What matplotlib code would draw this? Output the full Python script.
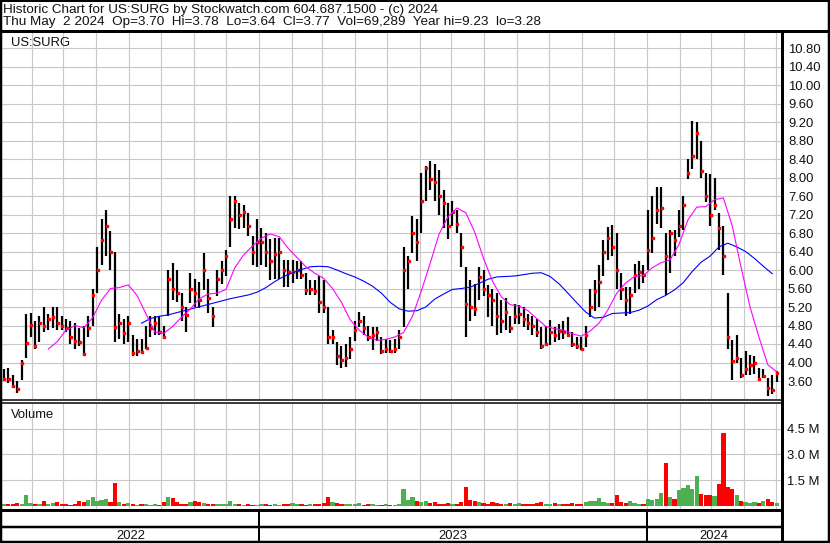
import matplotlib
matplotlib.use("Agg")
import matplotlib.pyplot as plt
import matplotlib.dates as mdates
import numpy as np
import pandas as pd

plt.rcParams['font.family'] = ['Liberation Sans', 'DejaVu Sans']

W, H = 830, 543

# price bars (about every 3 trading days)
highs = [3.85, 3.88, 3.72, 3.60, 4.05, 5.05, 5.07, 4.90, 5.00, 5.20,
         5.05, 5.20, 5.20, 5.00, 4.95, 4.90, 4.85, 4.75, 4.80, 5.00,
         5.60, 6.50, 7.10, 7.30, 6.85, 6.40, 5.05, 4.95, 5.00, 4.60,
         4.50, 4.50, 4.80, 5.00, 5.00, 5.00, 4.80, 6.00, 6.15, 6.00,
         5.50, 5.20, 5.93, 5.80, 5.75, 6.36, 5.80, 5.20, 6.00, 6.20,
         6.43, 7.60, 7.60, 7.45, 7.40, 7.23, 6.73, 7.10, 6.90, 6.80,
         6.66, 6.70, 6.70, 6.22, 6.22, 6.22, 6.20, 6.20, 5.93, 5.79,
         5.79, 5.86, 5.78, 5.20, 4.70, 4.44, 4.36, 4.40, 4.55, 4.90,
         5.10, 5.00, 4.80, 4.76, 4.77, 4.55, 4.50, 4.48, 4.50, 4.70,
         6.50, 6.30, 7.17, 7.10, 8.10, 8.25, 8.35, 8.30, 8.17, 7.74,
         7.45, 7.50, 7.30, 6.80, 6.07, 5.78, 5.70, 6.07, 6.00, 5.67,
         5.60, 5.50, 5.35, 5.40, 5.00, 5.27, 5.25, 5.20, 5.05, 5.00,
         4.95, 4.77, 4.80, 4.92, 4.77, 4.84, 4.90, 4.98, 4.66, 4.55,
         4.55, 4.80, 5.60, 5.78, 6.10, 6.65, 6.94, 6.97, 6.80, 5.93,
         5.64, 5.64, 6.13, 6.20, 6.10, 7.30, 7.60, 7.80, 7.80, 6.80,
         6.87, 6.87, 7.30, 7.60, 8.40, 9.23, 9.20, 8.80, 8.10, 8.08,
         8.00, 7.24, 6.95, 5.50, 4.48, 4.60, 4.10, 4.24, 4.17, 4.15,
         3.89, 3.85, 3.67, 3.74, 3.82]
lows = [3.60, 3.55, 3.45, 3.34, 3.62, 4.10, 4.55, 4.30, 4.45, 4.65,
        4.70, 4.75, 4.70, 4.70, 4.65, 4.40, 4.30, 4.35, 4.15, 4.55,
        4.80, 5.50, 6.10, 6.30, 6.00, 4.45, 4.50, 4.40, 4.45, 4.15,
        4.15, 4.20, 4.30, 4.55, 4.60, 4.60, 4.50, 5.00, 5.35, 5.30,
        4.90, 4.66, 5.28, 5.20, 5.17, 5.57, 5.07, 4.77, 5.43, 5.70,
        5.86, 6.50, 6.90, 6.88, 6.90, 6.73, 6.10, 6.07, 6.10, 6.07,
        5.79, 5.80, 5.80, 5.64, 5.64, 5.71, 5.80, 5.80, 5.46, 5.46,
        5.46, 5.07, 5.07, 4.40, 4.40, 3.95, 3.88, 3.90, 4.07, 4.47,
        4.76, 4.60, 4.47, 4.26, 4.47, 4.18, 4.20, 4.20, 4.20, 4.30,
        4.76, 5.60, 6.37, 6.20, 6.80, 7.50, 7.72, 7.50, 7.20, 6.90,
        6.66, 6.95, 6.80, 6.07, 4.55, 4.90, 5.00, 5.35, 5.43, 4.98,
        4.80, 4.60, 4.64, 4.70, 4.63, 4.84, 4.84, 4.77, 4.70, 4.60,
        4.56, 4.30, 4.35, 4.38, 4.44, 4.48, 4.50, 4.59, 4.34, 4.30,
        4.27, 4.33, 4.98, 5.12, 5.20, 5.86, 6.22, 6.30, 5.60, 5.35,
        5.00, 5.05, 5.50, 5.60, 5.71, 6.00, 6.37, 7.00, 6.90, 5.45,
        5.93, 6.30, 6.72, 6.87, 7.96, 8.19, 8.40, 8.00, 7.46, 6.95,
        7.30, 6.44, 5.90, 4.30, 3.62, 4.00, 3.67, 3.74, 3.74, 3.75,
        3.60, 3.67, 3.28, 3.32, 3.58]
closes = [3.65, 3.64, 3.50, 3.42, 4.00, 4.42, 4.81, 4.35, 4.85, 4.80,
          4.95, 4.98, 4.85, 4.80, 4.75, 4.55, 4.46, 4.45, 4.18, 4.75,
          5.46, 6.00, 6.65, 6.95, 6.40, 4.77, 4.85, 4.64, 4.85, 4.20,
          4.25, 4.22, 4.32, 4.75, 4.85, 4.65, 4.55, 5.80, 5.60, 5.50,
          5.20, 5.03, 5.60, 5.50, 5.35, 6.00, 5.40, 5.00, 5.80, 6.00,
          6.30, 7.10, 7.50, 7.20, 7.25, 6.95, 6.40, 6.60, 6.60, 6.40,
          6.20, 6.35, 6.40, 6.00, 5.95, 5.95, 6.00, 5.90, 5.57, 5.60,
          5.55, 5.30, 5.20, 4.55, 4.55, 4.15, 4.05, 4.10, 4.30, 4.70,
          4.90, 4.75, 4.56, 4.60, 4.65, 4.25, 4.30, 4.25, 4.30, 4.55,
          6.00, 6.20, 6.80, 6.60, 7.50, 8.20, 7.97, 7.90, 7.60, 7.45,
          6.95, 7.25, 7.00, 6.50, 5.27, 5.20, 5.15, 5.85, 5.60, 5.45,
          5.35, 5.00, 4.90, 5.10, 4.75, 5.00, 5.05, 4.95, 4.85, 4.80,
          4.65, 4.35, 4.40, 4.65, 4.60, 4.68, 4.65, 4.60, 4.40, 4.35,
          4.30, 4.60, 5.20, 5.55, 5.75, 6.40, 6.70, 6.50, 6.00, 5.60,
          5.35, 5.45, 5.90, 5.95, 5.90, 6.43, 6.70, 7.30, 7.35, 6.30,
          6.80, 6.65, 6.95, 7.40, 8.10, 8.47, 8.97, 8.15, 7.60, 7.20,
          7.40, 6.90, 6.30, 4.55, 4.04, 4.10, 3.74, 3.85, 3.95, 4.00,
          3.65, 3.70, 3.45, 3.40, 3.77]
# volume in millions, same bars
volumes = [0.10, 0.12, 0.10, 0.15, 0.10, 0.62, 0.15, 0.10, 0.12, 0.25,
           0.08, 0.15, 0.20, 0.10, 0.08, 0.05, 0.10, 0.30, 0.20, 0.33,
           0.53, 0.25, 0.35, 0.40, 0.20, 1.34, 0.20, 0.10, 0.18, 0.08,
           0.05, 0.08, 0.10, 0.06, 0.10, 0.06, 0.20, 0.50, 0.45, 0.20,
           0.10, 0.12, 0.20, 0.25, 0.20, 0.15, 0.12, 0.08, 0.10, 0.12,
           0.10, 0.30, 0.10, 0.08, 0.06, 0.08, 0.05, 0.06, 0.08, 0.10,
           0.05, 0.08, 0.06, 0.10, 0.08, 0.15, 0.10, 0.08, 0.06, 0.10,
           0.12, 0.08, 0.15, 0.50, 0.20, 0.15, 0.10, 0.12, 0.08, 0.10,
           0.15, 0.06, 0.08, 0.10, 0.06, 0.05, 0.08, 0.06, 0.05, 0.10,
           1.00, 0.35, 0.50, 0.30, 0.20, 0.25, 0.15, 0.20, 0.12, 0.10,
           0.15, 0.12, 0.10, 0.20, 1.10, 0.35, 0.25, 0.20, 0.15, 0.12,
           0.20, 0.15, 0.10, 0.12, 0.18, 0.10, 0.15, 0.12, 0.08, 0.10,
           0.15, 0.20, 0.12, 0.10, 0.15, 0.10, 0.12, 0.08, 0.15, 0.10,
           0.12, 0.20, 0.25, 0.30, 0.45, 0.20, 0.15, 0.15, 0.62, 0.20,
           0.15, 0.30, 0.15, 0.10, 0.10, 0.40, 0.35, 0.40, 0.72, 2.47,
           0.50, 0.40, 0.90, 1.06, 1.20, 0.98, 1.75, 0.70, 0.65, 0.60,
           0.55, 1.28, 4.26, 1.10, 1.00, 0.60, 0.30, 0.20, 0.15, 0.20,
           0.15, 0.25, 0.40, 0.20, 0.15]
# moving averages (every 2nd bar)
ma_fast_start = 10
ma_fast = [4.29, 4.45, 4.70, 4.80, 4.75, 4.97, 5.35, 5.60, 5.62, 5.68,
           5.45, 5.05, 4.66, 4.63, 4.78, 4.98, 5.16, 5.38, 5.48, 5.50,
           5.58, 6.05, 6.33, 6.52, 6.69, 6.78, 6.72, 6.47, 6.27, 6.07,
           5.93, 5.82, 5.60, 5.30, 4.92, 4.70, 4.55, 4.48, 4.50, 4.55,
           4.65, 5.00, 5.55, 6.15, 6.78, 7.15, 7.34, 7.24, 6.82, 6.25,
           5.76, 5.42, 5.25, 5.22, 5.12, 4.95, 4.78, 4.73, 4.70, 4.62,
           4.57, 4.68, 4.85, 5.14, 5.50, 5.72, 5.86, 5.88, 6.05, 6.16,
           6.22, 6.55, 7.08, 7.36, 7.37, 7.52, 7.56, 6.95, 6.05, 5.20,
           4.55, 3.95, 3.80]
ma_slow_start = 31
ma_slow = [4.85, 4.95, 5.00, 5.03, 5.08, 5.13, 5.18, 5.23, 5.28, 5.33,
           5.38, 5.42, 5.46, 5.52, 5.62, 5.75, 5.86, 5.94, 6.01, 6.07,
           6.08, 6.07, 6.00, 5.92, 5.85, 5.76, 5.65, 5.50, 5.30, 5.16,
           5.11, 5.12, 5.20, 5.37, 5.48, 5.58, 5.60, 5.63, 5.71, 5.80,
           5.85, 5.86, 5.87, 5.90, 5.93, 5.94, 5.86, 5.70, 5.50, 5.29,
           5.09, 4.96, 4.98, 5.06, 5.07, 5.08, 5.13, 5.22, 5.36, 5.45,
           5.57, 5.73, 5.97, 6.17, 6.30, 6.50, 6.58, 6.50, 6.40, 6.25,
           6.08, 5.92]

price_ticks = np.arange(3.6, 10.81, 0.4)
vol_ticks = [1.5, 3.0, 4.5]
years = [2022, 2023, 2024]

header1 = "Historic Chart for US:SURG by Stockwatch.com 604.687.1500 - (c) 2024"
header2 = "Thu May  2 2024  Op=3.70  Hi=3.78  Lo=3.64  Cl=3.77  Vol=69,289  Year hi=9.23  lo=3.28"

dates = pd.date_range('2022-05-06', '2024-05-02', periods=len(closes))
x = mdates.date2num(dates)
step = x[1] - x[0]

# pixel <-> date mapping of the original layout
ref = mdates.date2num(pd.Timestamp('2023-01-01'))
ppd = 388 / 365.0
def px_to_x(px):
    return ref + (px - 259) / ppd
def x_to_px(v):
    return 259 + (v - ref) * ppd

FS = 9.4
GRID = '#c8c8c8'

fig = plt.figure(figsize=(W / 100, H / 100), dpi=100)
fig.patch.set_facecolor('white')

def px_axes(x0, y0, x1, y1):
    return fig.add_axes([x0 / W, 1 - y1 / H, (x1 - x0) / W, (y1 - y0) / H])

# price panel
ax = px_axes(2, 31, 781, 399)
ax.set_xlim(px_to_x(2), px_to_x(781))
ax.set_ylim(3.6 - 18 / 46.25, 3.6 + 350 / 46.25)
ax.xaxis.set_major_locator(mdates.MonthLocator())
ax.set_yticks(price_ticks)
ax.set_yticklabels([f"{t:.2f}" for t in price_ticks])
ax.yaxis.tick_right()
ax.tick_params(axis='y', length=0, pad=5, labelsize=FS, labelcolor='#111111')
ax.tick_params(axis='x', length=0, labelbottom=False)
ax.grid(True, color=GRID, lw=0.8)
ax.set_axisbelow(True)
for s in ax.spines.values():
    s.set_visible(False)

ax.vlines(x, lows, highs, colors='black', lw=1.6, zorder=3)
ax.plot(x + 0.5, closes, ls='none', marker='s', ms=1.5, color='red', mec='red', zorder=4)
xf = x[ma_fast_start::2][:len(ma_fast)]
xs = x[ma_slow_start::2][:len(ma_slow)]
ax.plot(xs, ma_slow, color='#0000ff', lw=0.8, zorder=5)
ax.plot(xf, ma_fast, color='#ff00ff', lw=0.8, zorder=5)
ax.text(9 / 779, 1 - 15 / 368, "US:SURG", transform=ax.transAxes, fontsize=FS,
        va='baseline', ha='left', color='#111111')

# volume panel
vax = px_axes(2, 404, 781, 509)
vax.set_xlim(px_to_x(2), px_to_x(781))
vax.set_ylim((505.7 - 509) / 17.13, (505.7 - 404) / 17.13)
vax.xaxis.set_major_locator(mdates.MonthLocator())
vax.set_yticks(vol_ticks)
vax.set_yticklabels([f"{t:.1f} M" for t in vol_ticks])
vax.yaxis.tick_right()
vax.tick_params(axis='y', length=0, pad=4.5, labelsize=FS, labelcolor='#111111')
vax.tick_params(axis='x', length=0, labelbottom=False)
vax.grid(True, color=GRID, lw=0.8)
vax.set_axisbelow(True)
for s in vax.spines.values():
    s.set_visible(False)
up = np.r_[True, np.diff(closes) >= 0]
vcol = np.where(up, '#4caf50', '#ff0000')
vax.bar(x, volumes, width=step * 0.95, color=vcol, zorder=3)
vax.text(9 / 779, 1 - 14 / 105, "Volume", transform=vax.transAxes, fontsize=FS,
         va='baseline', ha='left', color='#111111')

# frame, header and year row drawn in pixel space
ov = fig.add_axes([0, 0, 1, 1], zorder=10)
ov.set_xlim(0, W)
ov.set_ylim(H, 0)
ov.axis('off')
ov.patch.set_alpha(0)

def hl(y, x0, x1, w):
    ov.plot([x0, x1], [y, y], color='black', lw=w * 0.72, solid_capstyle='butt')
def vl(xp, y0, y1, w):
    ov.plot([xp, xp], [y0, y1], color='black', lw=w * 0.72, solid_capstyle='butt')

hl(0.8, 0, W, 2)
hl(H - 1, 0, W, 2.5)
vl(1, 0, H, 2.5)
vl(W - 1.2, 0, H, 2.5)
hl(30.5, 0, W, 3)
vl(781.5, 30, H, 3)
hl(400.3, 0, 781, 1.5)
hl(403.0, 0, 781, 1.5)
hl(510, 0, 781, 3)
hl(527, 0, 781, 2.5)

bounds = [2] + [x_to_px(mdates.date2num(pd.Timestamp(f'{y}-01-01'))) for y in years[1:]] + [781]
for b in bounds[1:-1]:
    vl(b, 510, H, 2)
for i, y in enumerate(years):
    ov.text((bounds[i] + bounds[i + 1]) / 2, 539, str(y), fontsize=FS,
            ha='center', va='baseline', color='#111111')

HFS = 9.7
ov.text(3, 12.5, header1, fontsize=HFS, ha='left', va='baseline', color='#111111')
ov.text(3, 25.5, header2, fontsize=HFS, ha='left', va='baseline', color='#111111')

fig.savefig('out.png', dpi=100)
